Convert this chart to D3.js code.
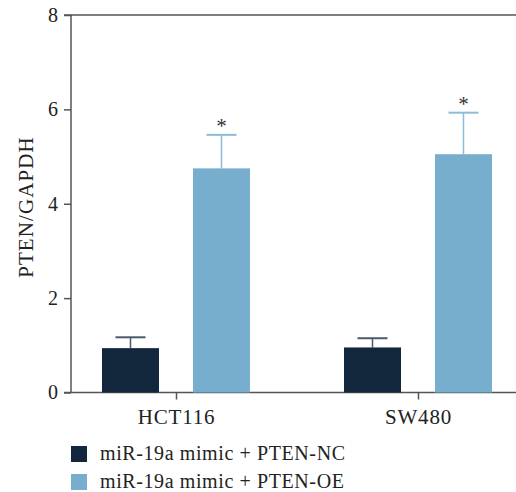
<!DOCTYPE html>
<html><head><meta charset="utf-8">
<script src="https://cdn.jsdelivr.net/npm/d3@7"></script>
<style>body{margin:0;background:#fff}svg{display:block}</style>
</head><body>
<script>
const categories = ["HCT116", "SW480"];
const seriesNames = ["miR-19a mimic + PTEN-NC", "miR-19a mimic + PTEN-OE"];
const means = [[0.94, 4.75], [0.955, 5.05]];
const errors = [[0.23, 0.71], [0.195, 0.88]];
const significance = [["", "*"], ["", "*"]];
const yTicks = [0, 2, 4, 6, 8];
const colors = ["#13273c", "#78aecd"];
const errColors = ["#4a5a6c", "#8dbcd8"];

const W = 516, H = 492;
const svg = d3.select("body").append("svg").attr("width", W).attr("height", H);
const font = "'Liberation Serif', 'DejaVu Serif', serif";
const axisColor = "#555";

const y = d3.scaleLinear().domain([0, 8]).range([392.5, 15]);
const x = d3.scalePoint().domain(categories).range([176, 418]);
const barW = 57, off = 45.5;

// y axis
const yAxis = svg.append("g").attr("transform", "translate(71,0)")
  .call(d3.axisLeft(y).tickValues(yTicks).tickSize(7).tickPadding(6).tickFormat(d3.format("d")));
yAxis.select(".domain").attr("stroke", axisColor).attr("stroke-width", 1.5).attr("d", `M-7,${y(8)}H0V${y(0)}`);
yAxis.selectAll(".tick line").attr("stroke", axisColor).attr("stroke-width", 1.5);
yAxis.selectAll(".tick text").attr("font-family", font).attr("font-size", 20).attr("fill", "#222");

// top line
svg.append("line").attr("x1", 71).attr("x2", W).attr("y1", y(8)).attr("y2", y(8))
  .attr("stroke", axisColor).attr("stroke-width", 1.5);

// x axis
const xAxis = svg.append("g").attr("transform", `translate(0,${y(0)})`)
  .call(d3.axisBottom(x).tickSize(7).tickPadding(6));
xAxis.select(".domain").attr("stroke", axisColor).attr("stroke-width", 1.5).attr("d", `M64,0H${W}`);
xAxis.selectAll(".tick line").attr("stroke", axisColor).attr("stroke-width", 1.5);
xAxis.selectAll(".tick text").attr("font-family", font).attr("font-size", 21).attr("fill", "#222")
  .attr("letter-spacing", "0.8px").attr("dy", "0.9em");

// y label
svg.append("text").attr("transform", `translate(33,${207}) rotate(-90)`)
  .attr("text-anchor", "middle").attr("font-family", font).attr("font-size", 21).attr("fill", "#222")
  .attr("letter-spacing", "1.1px")
  .text("PTEN/GAPDH");

// bars
categories.forEach((c, ci) => {
  means[ci].forEach((v, si) => {
    const cx = x(c) + (si === 0 ? -off : off);
    const top = y(v + errors[ci][si]);
    svg.append("line").attr("x1", cx).attr("x2", cx).attr("y1", y(v)).attr("y2", top)
      .attr("stroke", errColors[si]).attr("stroke-width", 1.5);
    svg.append("line").attr("x1", cx - 15).attr("x2", cx + 15).attr("y1", top).attr("y2", top)
      .attr("stroke", errColors[si]).attr("stroke-width", 2);
    svg.append("rect").attr("x", cx - barW/2).attr("width", barW)
      .attr("y", y(v)).attr("height", y(0) - y(v)).attr("fill", colors[si]);
    if (significance[ci][si]) {
      svg.append("text").attr("x", cx).attr("y", top - 2).attr("text-anchor", "middle")
        .attr("font-family", font).attr("font-size", 21).attr("fill", "#333")
        .text(significance[ci][si]);
    }
  });
});

// legend
seriesNames.forEach((n, i) => {
  const ly = 446 + i * 28;
  svg.append("rect").attr("x", 71).attr("y", ly).attr("width", 16).attr("height", 16).attr("fill", colors[i]);
  svg.append("text").attr("x", 100).attr("y", ly + 13.5).attr("font-family", font).attr("font-size", 20)
    .attr("letter-spacing", "0.6px").attr("fill", "#222").text(n);
});
</script>
</body></html>
